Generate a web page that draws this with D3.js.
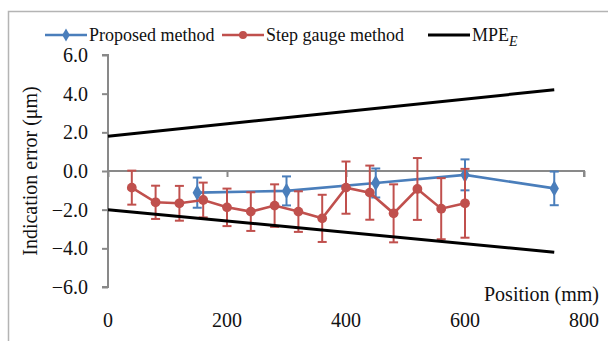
<!DOCTYPE html>
<html>
<head>
<meta charset="utf-8">
<script src="https://cdn.jsdelivr.net/npm/d3@7"></script>
<style>
  body { margin: 0; background: #fff; }
  svg { display: block; font-family: "Liberation Serif", "Times New Roman", serif; }
</style>
</head>
<body>
<div id="chart"></div>
<script>
// data
var stepPos = [40, 80, 120, 160, 200, 240, 280, 320, 360, 400, 440, 480, 520, 560, 600];
var stepVal = [-0.86, -1.62, -1.67, -1.5, -1.88, -2.1, -1.79, -2.1, -2.45, -0.86, -1.12, -2.19, -0.93, -1.95, -1.67];
var stepErr = [0.88, 0.86, 0.9, 0.9, 0.97, 1.0, 1.1, 1.05, 1.22, 1.35, 1.4, 1.5, 1.6, 1.58, 1.78];
var propPos = [150, 300, 450, 600, 750];
var propVal = [-1.12, -1.03, -0.62, -0.2, -0.9];
var propErr = [0.78, 0.75, 0.75, 0.8, 0.87];
var mpePos = [0, 750];
var mpeUpper = [1.8, 4.2];
var mpeLower = [-2.0, -4.2];
var xTicks = [0, 200, 400, 600, 800];
var yTicks = [-6, -4, -2, 0, 2, 4, 6];
var seriesNames = ["Proposed method", "Step gauge method", "MPE"];

var W = 608, H = 341;
var blue = "#4a7ebb", red = "#c0504d", gray = "#898989";

var svg = d3.select("#chart").append("svg")
    .attr("width", W)
    .attr("height", H);

// outer frame (only top and left are in view)
svg.append("path")
    .attr("d", "M8.5," + H + "V11.5H" + W)
    .attr("fill", "none")
    .attr("stroke", "#b4b4b4")
    .attr("stroke-width", 1.5);

var x = d3.scaleLinear().domain([0, 800]).range([108, 584]);
var y = d3.scaleLinear().domain([-6, 6]).range([287, 55]);

// y axis
var yAxis = svg.append("g")
    .attr("transform", "translate(" + x(0) + ",0)")
    .call(d3.axisLeft(y).tickValues(yTicks).tickSize(6).tickPadding(14)
      .tickFormat(d3.format(".1f")));
yAxis.select(".domain").attr("stroke", gray).attr("stroke-width", 2)
    .attr("d", "M-6," + y(6) + "H0V" + y(-6) + "H-6");
yAxis.selectAll(".tick line").attr("stroke", gray).attr("stroke-width", 2);
yAxis.selectAll(".tick text").attr("font-size", 20).attr("fill", "#111")
    .attr("font-family", "Liberation Serif");

// x axis sits on zero, labels pushed to the bottom
var xAxis = svg.append("g")
    .attr("transform", "translate(0," + y(0) + ")")
    .call(d3.axisBottom(x).tickValues(xTicks).tickSize(6).tickFormat(""));
xAxis.select(".domain").attr("stroke", gray).attr("stroke-width", 2)
    .attr("d", "M" + x(0) + ",0H" + x(800) + "V6");
xAxis.selectAll(".tick line").attr("stroke", gray).attr("stroke-width", 2);

svg.selectAll("text.xlab")
    .data(xTicks)
    .enter().append("text")
    .attr("class", "xlab")
    .attr("x", function(d) { return x(d); })
    .attr("y", 327)
    .attr("text-anchor", "middle")
    .attr("font-size", 20)
    .attr("fill", "#111")
    .text(function(d) { return d; });

svg.append("text")
    .attr("x", 599)
    .attr("y", 301)
    .attr("text-anchor", "end")
    .attr("font-size", 20)
    .attr("fill", "#111")
    .text("Position (mm)");

svg.append("text")
    .attr("transform", "translate(37,171) rotate(-90)")
    .attr("text-anchor", "middle")
    .attr("font-size", 20)
    .attr("fill", "#111")
    .text("Indication error (\u03bcm)");

var line = d3.line()
    .x(function(d) { return x(d[0]); })
    .y(function(d) { return y(d[1]); });

function drawSeries(pos, val, err, color, marker) {
  var pts = pos.map(function(p, i) { return [p, val[i], err[i]]; });
  var g = svg.append("g");
  // error bars
  var eb = g.selectAll("g.eb").data(pts).enter().append("g")
      .attr("stroke", color).attr("stroke-width", 2);
  eb.append("line")
      .attr("x1", function(d) { return x(d[0]); })
      .attr("x2", function(d) { return x(d[0]); })
      .attr("y1", function(d) { return y(d[1] + d[2]); })
      .attr("y2", function(d) { return y(d[1] - d[2]); });
  [1, -1].forEach(function(s) {
    eb.append("line")
        .attr("x1", function(d) { return x(d[0]) - 4.5; })
        .attr("x2", function(d) { return x(d[0]) + 4.5; })
        .attr("y1", function(d) { return y(d[1] + s * d[2]); })
        .attr("y2", function(d) { return y(d[1] + s * d[2]); });
  });
  g.append("path")
      .datum(pts)
      .attr("d", line)
      .attr("fill", "none")
      .attr("stroke", color)
      .attr("stroke-width", 2.6);
  g.selectAll("path.mk").data(pts).enter().append("path")
      .attr("class", "mk")
      .attr("transform", function(d) { return "translate(" + x(d[0]) + "," + y(d[1]) + ")"; })
      .attr("d", d3.symbol().type(marker).size(75))
      .attr("fill", color);
}

drawSeries(propPos, propVal, propErr, blue, d3.symbolDiamond);
drawSeries(stepPos, stepVal, stepErr, red, d3.symbolCircle);

[mpeUpper, mpeLower].forEach(function(vals) {
  svg.append("path")
      .datum(mpePos.map(function(p, i) { return [p, vals[i]]; }))
      .attr("d", line)
      .attr("fill", "none")
      .attr("stroke", "#000")
      .attr("stroke-width", 3);
});

// legend
var leg = svg.append("g").attr("font-size", 18).attr("fill", "#111");
var legItems = [
  {x: 45, color: blue, marker: d3.symbolDiamond, name: seriesNames[0]},
  {x: 222, color: red, marker: d3.symbolCircle, name: seriesNames[1]},
  {x: 428, color: "#000", marker: null, name: seriesNames[2]}
];
legItems.forEach(function(d) {
  leg.append("line")
      .attr("x1", d.x).attr("x2", d.x + 42)
      .attr("y1", 35).attr("y2", 35)
      .attr("stroke", d.color).attr("stroke-width", d.marker ? 2.6 : 3);
  if (d.marker) {
    leg.append("path")
        .attr("transform", "translate(" + (d.x + 21) + ",35)")
        .attr("d", d3.symbol().type(d.marker).size(50))
        .attr("fill", d.color);
  }
  var t = leg.append("text")
      .attr("x", d.x + 44)
      .attr("y", 41)
      .text(d.name);
  if (!d.marker) {
    t.append("tspan")
        .attr("font-style", "italic")
        .attr("font-size", 14)
        .attr("dy", 5)
        .text("E");
  }
});
</script>
</body>
</html>
